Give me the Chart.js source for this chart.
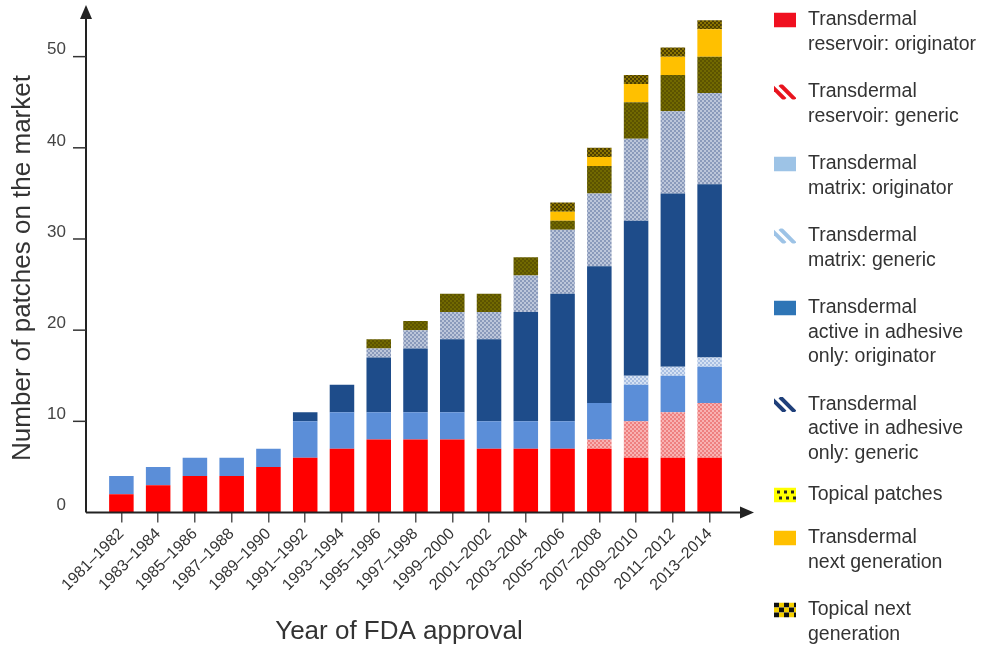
<!DOCTYPE html>
<html>
<head>
<meta charset="utf-8">
<title>Patches on the market</title>
<script src="https://cdn.jsdelivr.net/npm/chart.js@4.4.1/dist/chart.umd.min.js"></script>
<style>
  body { margin: 0; background: #fff; }
  #wrap { width: 988px; height: 652px; }
</style>
</head>
<body>
<div id="wrap"><canvas id="patchChart" width="988" height="652"></canvas></div>
<script>
// two-year bins of FDA approval
const categories = ['1981–1982', '1983–1984', '1985–1986', '1987–1988', '1989–1990', '1991–1992',
    '1993–1994', '1995–1996', '1997–1998', '1999–2000', '2001–2002', '2003–2004', '2005–2006',
    '2007–2008', '2009–2010', '2011–2012', '2013–2014'];

// number of patches per type (stacked bottom to top)
const reservoirOriginator = [2, 3, 4, 4, 5, 6, 7, 8, 8, 8, 7, 7, 7, 7, 6, 6, 6];
const reservoirGeneric    = [0, 0, 0, 0, 0, 0, 0, 0, 0, 0, 0, 0, 0, 1, 4, 5, 6];
const matrixOriginator    = [2, 2, 2, 2, 2, 4, 4, 3, 3, 3, 3, 3, 3, 4, 4, 4, 4];
const matrixGeneric       = [0, 0, 0, 0, 0, 0, 0, 0, 0, 0, 0, 0, 0, 0, 1, 1, 1];
const aiaOriginator       = [0, 0, 0, 0, 0, 1, 3, 6, 7, 8, 9, 12, 14, 15, 17, 19, 19];
const aiaGeneric          = [0, 0, 0, 0, 0, 0, 0, 1, 2, 3, 3, 4, 7, 8, 9, 9, 10];
const topicalPatches      = [0, 0, 0, 0, 0, 0, 0, 1, 1, 2, 2, 2, 1, 3, 4, 4, 4];
const transdermalNextGen  = [0, 0, 0, 0, 0, 0, 0, 0, 0, 0, 0, 0, 1, 1, 2, 2, 3];
const topicalNextGen      = [0, 0, 0, 0, 0, 0, 0, 0, 0, 0, 0, 0, 1, 1, 1, 1, 1];

const yTicks = [0, 10, 20, 30, 40, 50];

const FONT = '"Liberation Sans", Arial, sans-serif';

// small checker texture for the "generic" / topical fills
function checker(base, dot, size) {
    const c = document.createElement('canvas');
    c.width = size * 2;
    c.height = size * 2;
    const g = c.getContext('2d');
    g.fillStyle = base;
    g.fillRect(0, 0, c.width, c.height);
    g.fillStyle = dot;
    g.fillRect(0, 0, size, size);
    g.fillRect(size, size, size, size);
    return g.createPattern(c, 'repeat');
}

function drawIcon(ctx, type, color, x, y, w, h) {
    ctx.save();
    ctx.beginPath();
    ctx.rect(x, y, w, h);
    ctx.clip();
    if (type === 'solid') {
        ctx.fillStyle = color;
        ctx.fillRect(x, y, w, h);
    } else if (type === 'hatch') {
        ctx.strokeStyle = color;
        ctx.lineWidth = 4;
        [-4, 6].forEach(k => {
            ctx.beginPath();
            ctx.moveTo(x + k, y);
            ctx.lineTo(x + k + h, y + h);
            ctx.stroke();
        });
    } else if (type === 'dots') {
        ctx.fillStyle = '#ffff00';
        ctx.fillRect(x, y, w, h);
        ctx.fillStyle = '#222';
        for (let r = 0; r < 2; r++) {
            for (let c = 0; c < 3; c++) {
                ctx.fillRect(x + 3 + c * 7 + r * 2, y + 3 + r * 6, 3, 3);
            }
        }
    } else if (type === 'checker') {
        const s = 5;
        for (let r = 0; r < 3; r++) {
            for (let c = 0; c < 5; c++) {
                ctx.fillStyle = (r + c) % 2 ? '#f5d000' : '#111';
                ctx.fillRect(x + c * s, y + r * s, s, s);
            }
        }
    }
    ctx.restore();
}

// axes with arrows, y tick marks, axis titles and the side legend
const decorations = {
    id: 'decorations',
    afterDraw(chart) {
        const ctx = chart.ctx;
        const y = chart.scales.y;
        const base = y.getPixelForValue(0);
        const ax = 86;
        ctx.save();
        ctx.strokeStyle = '#222';
        ctx.fillStyle = '#222';
        ctx.lineWidth = 2;
        ctx.beginPath();
        ctx.moveTo(ax, base);
        ctx.lineTo(ax, 16);
        ctx.moveTo(ax, base);
        ctx.lineTo(742, base);
        ctx.stroke();
        ctx.beginPath();
        ctx.moveTo(ax, 5);
        ctx.lineTo(ax - 6, 19);
        ctx.lineTo(ax + 6, 19);
        ctx.closePath();
        ctx.fill();
        ctx.beginPath();
        ctx.moveTo(754, base);
        ctx.lineTo(740, base - 6);
        ctx.lineTo(740, base + 6);
        ctx.closePath();
        ctx.fill();

        ctx.strokeStyle = '#333';
        ctx.lineWidth = 1.5;
        yTicks.forEach(v => {
            if (v === 0) return;
            const py = y.getPixelForValue(v);
            ctx.beginPath();
            ctx.moveTo(73, py);
            ctx.lineTo(ax, py);
            ctx.stroke();
        });

        ctx.fillStyle = '#333';
        ctx.font = '26px ' + FONT;
        ctx.textAlign = 'center';
        ctx.textBaseline = 'middle';
        ctx.fillText('Year of FDA approval', 399, 632);
        ctx.translate(23, 268);
        ctx.rotate(-Math.PI / 2);
        ctx.fillText('Number of patches on the market', 0, 0);
        ctx.restore();

        // legend
        ctx.save();
        let ly = 20;
        chart.data.datasets.forEach(ds => {
            const lines = ds.label.split('\n');
            drawIcon(ctx, ds.legendIcon, ds.legendColor, 774, ly - 7.5, 22, 15);
            ctx.fillStyle = '#333';
            ctx.font = '19.5px ' + FONT;
            ctx.textAlign = 'left';
            ctx.textBaseline = 'middle';
            lines.forEach((t, i) => ctx.fillText(t, 808, ly + i * 24.5));
            ly += lines.length * 24.5 + (ds.legendGap || 23);
        });
        ctx.restore();
    }
};

const datasets = [
    { label: 'Transdermal\nreservoir: originator', data: reservoirOriginator,
      backgroundColor: '#ff0000', legendIcon: 'solid', legendColor: '#f01020' },
    { label: 'Transdermal\nreservoir: generic', data: reservoirGeneric,
      backgroundColor: checker('#f8b2b2', '#ee8080', 2), legendIcon: 'hatch', legendColor: '#e8141e' },
    { label: 'Transdermal\nmatrix: originator', data: matrixOriginator,
      backgroundColor: '#5b8ed8', legendIcon: 'solid', legendColor: '#9dc3e6' },
    { label: 'Transdermal\nmatrix: generic', data: matrixGeneric,
      backgroundColor: checker('#d6e2f3', '#a9bfe2', 2), legendIcon: 'hatch', legendColor: '#9dc3e6' },
    { label: 'Transdermal\nactive in adhesive\nonly: originator', data: aiaOriginator,
      backgroundColor: '#1e4c8a', legendIcon: 'solid', legendColor: '#2e75b6' },
    { label: 'Transdermal\nactive in adhesive\nonly: generic', data: aiaGeneric,
      backgroundColor: checker('#bcc6da', '#8a9abb', 2), legendIcon: 'hatch', legendColor: '#1f3f7a',
      legendGap: 17 },
    { label: 'Topical patches', data: topicalPatches,
      backgroundColor: checker('#716900', '#5c5300', 2), legendIcon: 'dots', legendColor: '#ffff00',
      legendGap: 18.5 },
    { label: 'Transdermal\nnext generation', data: transdermalNextGen,
      backgroundColor: '#ffc000', legendIcon: 'solid', legendColor: '#ffc000' },
    { label: 'Topical next\ngeneration', data: topicalNextGen,
      backgroundColor: checker('#8a7400', '#4d3f00', 2), legendIcon: 'checker', legendColor: '#111' }
];

const ctx = document.getElementById('patchChart').getContext('2d');
new Chart(ctx, {
    type: 'bar',
    data: { labels: categories, datasets: datasets },
    options: {
        responsive: false,
        animation: false,
        devicePixelRatio: 1,
        layout: { padding: { top: 6.5, right: 260, left: 0, bottom: 0 } },
        datasets: { bar: { categoryPercentage: 1, barPercentage: 0.667, borderWidth: 0 } },
        plugins: { legend: { display: false }, tooltip: { enabled: false } },
        scales: {
            x: {
                stacked: true,
                border: { display: false },
                grid: { display: true, drawOnChartArea: false, drawTicks: true, tickLength: 10,
                        offset: false, color: '#555', lineWidth: 1.5 },
                ticks: { autoSkip: false, minRotation: 45, maxRotation: 45, padding: 2,
                         color: '#333', font: { family: FONT, size: 16 } },
                afterFit(scale) {
                    scale.height = 139.5;
                    scale.paddingLeft = 0;
                    scale.paddingRight = 0;
                }
            },
            y: {
                stacked: true,
                min: 0,
                max: 55.5,
                border: { display: false },
                grid: { display: false, drawTicks: false },
                ticks: { padding: 37, labelOffset: -7, color: '#444', font: { family: FONT, size: 17 } },
                afterBuildTicks(scale) {
                    scale.ticks = yTicks.map(v => ({ value: v }));
                },
                afterFit(scale) {
                    scale.width = 103;
                    scale.paddingTop = 0;
                    scale.paddingBottom = 0;
                }
            }
        }
    },
    plugins: [decorations]
});
</script>
</body>
</html>
